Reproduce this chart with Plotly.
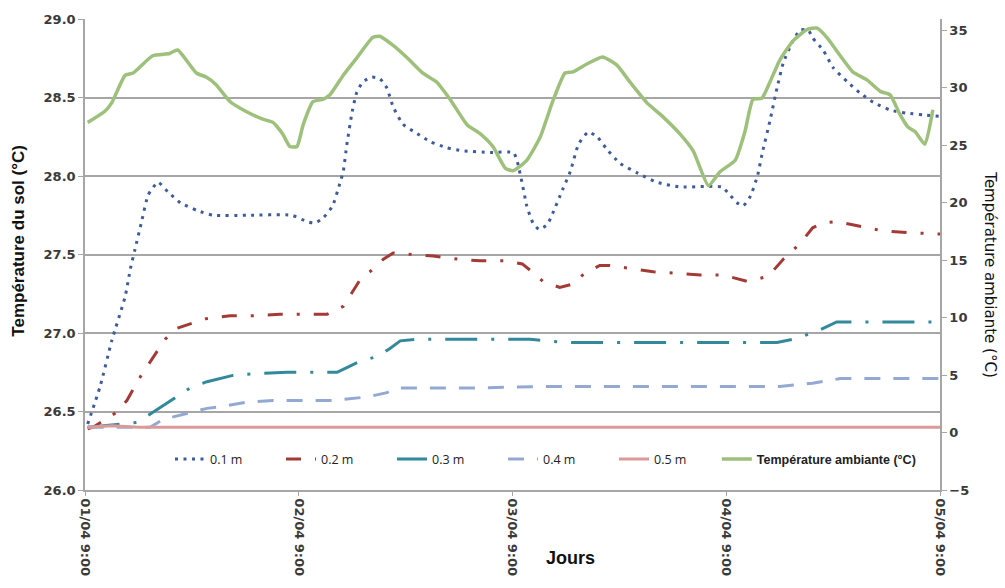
import plotly.graph_objects as go

# ---- data (hours after 01/04 9:00) ----
t01 = [0.3, 1.7, 3.0, 4.5, 5.1, 5.6, 6.4, 7.1, 8.2, 9.3, 10.7, 12.6, 14.4, 18.2, 23.2, 24.9, 25.8, 26.7,
       27.8, 28.6, 29.0, 29.4, 30.0, 30.5, 31.2, 32.2, 33.1, 33.9, 34.6, 35.7, 37.3, 38.7, 40.6, 42.4,
       45.5, 48.1, 48.5, 49.1, 49.6, 50.3, 51.0, 51.9, 52.5, 53.6, 54.5, 55.4, 56.5, 57.5, 58.6, 60.1,
       62.0, 64.2, 66.8, 71.5, 72.4, 73.2, 73.9, 74.7, 75.5, 76.1, 76.9, 77.7, 78.4, 79.4, 80.3, 81.2,
       81.7, 82.9, 84.0, 85.6, 87.0, 88.5, 90.4, 92.3, 94.1, 96.0]
v01 = [26.42, 26.66, 26.95, 27.23, 27.41, 27.53, 27.72, 27.88, 27.96, 27.90, 27.83, 27.78, 27.75, 27.75,
       27.75, 27.71, 27.70, 27.73, 27.81, 27.95, 28.03, 28.20, 28.41, 28.53, 28.60, 28.63, 28.62, 28.56,
       28.44, 28.33, 28.27, 28.22, 28.18, 28.16, 28.15, 28.15, 28.10, 27.95, 27.81, 27.70, 27.66, 27.69,
       27.76, 27.91, 28.03, 28.20, 28.28, 28.25, 28.17, 28.08, 28.02, 27.96, 27.93, 27.93, 27.88, 27.83,
       27.81, 27.87, 28.00, 28.16, 28.35, 28.56, 28.72, 28.85, 28.93, 28.93, 28.88, 28.80, 28.69, 28.60,
       28.53, 28.47, 28.42, 28.40, 28.39, 28.38]

t02 = [0.3, 0.9, 3.4, 4.7, 6.2, 7.6, 9.0, 10.3, 11.8, 13.5, 16.3, 18.9, 21.9, 24.1, 27.2, 29.0, 30.1,
       30.9, 32.2, 33.5, 34.6, 36.7, 39.1, 41.9, 44.4, 47.2, 49.1, 50.2, 51.4, 53.3, 54.7, 56.1, 57.8,
       58.9, 61.2, 63.8, 66.5, 69.1, 71.6, 74.3, 76.7, 78.4, 80.3, 81.7, 82.9, 84.4, 87.0, 89.6, 92.3,
       94.9, 96.0]
v02 = [26.39, 26.40, 26.49, 26.57, 26.72, 26.84, 26.96, 27.03, 27.06, 27.09, 27.11, 27.11, 27.12, 27.12,
       27.12, 27.17, 27.27, 27.34, 27.40, 27.47, 27.51, 27.50, 27.49, 27.47, 27.46, 27.46, 27.44, 27.39,
       27.33, 27.29, 27.31, 27.38, 27.43, 27.43, 27.41, 27.39, 27.38, 27.37, 27.37, 27.33, 27.36, 27.47,
       27.57, 27.67, 27.70, 27.71, 27.68, 27.65, 27.64, 27.63, 27.63]

t03 = [0.3, 5.8, 7.5, 8.8, 10.1, 11.8, 13.7, 16.6, 18.9, 22.7, 26.0, 28.3, 29.4, 30.9, 32.8, 34.2, 35.4,
       37.3, 42.9, 50.0, 51.9, 53.7, 61.0, 68.3, 75.5, 77.7, 79.5, 80.6, 82.5, 84.4, 86.7, 96.0]
v03 = [26.40, 26.43, 26.49, 26.54, 26.59, 26.65, 26.69, 26.73, 26.74, 26.75, 26.75, 26.75, 26.78, 26.82,
       26.85, 26.90, 26.95, 26.96, 26.96, 26.96, 26.95, 26.94, 26.94, 26.94, 26.94, 26.94, 26.96, 26.98,
       27.02, 27.07, 27.07, 27.07]

t04 = [0.3, 7.3, 8.8, 11.0, 13.7, 15.2, 18.2, 21.1, 24.5, 27.8, 31.2, 32.3, 33.9, 35.0, 38.0, 44.4, 51.4,
       64.9, 78.0, 81.7, 84.8, 88.5, 96.0]
v04 = [26.40, 26.40, 26.45, 26.48, 26.52, 26.53, 26.56, 26.57, 26.57, 26.57, 26.59, 26.60, 26.62, 26.65,
       26.65, 26.65, 26.66, 26.66, 26.66, 26.68, 26.71, 26.71, 26.71]

t05 = [0.3, 3.0, 6.0, 24.0, 48.0, 72.0, 96.0]
v05 = [26.40, 26.41, 26.40, 26.40, 26.40, 26.40, 26.40]

t_amb = [0.3, 2.2, 3.0, 4.5, 5.4, 7.6, 9.5, 10.4, 12.5, 13.6, 14.7, 16.3, 18.1, 19.9, 21.1, 22.2, 23.0,
         23.8, 24.5, 25.6, 26.7, 27.5, 29.0, 30.5, 32.3, 33.1, 34.6, 36.2, 37.9, 39.5, 41.0, 42.9, 44.4,
         45.8, 47.2, 48.1, 49.6, 51.1, 52.5, 53.9, 54.8, 56.4, 58.1, 59.7, 61.2, 63.1, 64.6, 66.8, 68.3,
         70.0, 71.3, 73.0, 74.1, 75.0, 76.0, 76.9, 78.0, 79.5, 81.1, 82.2, 83.4, 84.8, 86.2, 87.8, 89.3,
         90.4, 91.5, 92.4, 93.2, 94.3, 95.2]
v_amb = [27.0, 27.95, 28.7, 31.1, 31.3, 32.8, 33.0, 33.3, 31.3, 30.95, 30.3, 28.8, 27.95, 27.3, 27.0,
         26.0, 24.9, 24.9, 26.8, 28.8, 29.0, 29.4, 31.1, 32.6, 34.4, 34.5, 33.7, 32.6, 31.3, 30.5, 29.0,
         26.8, 26.0, 24.9, 23.0, 22.8, 23.7, 25.7, 28.8, 31.3, 31.4, 32.1, 32.7, 32.0, 30.5, 28.7, 27.7,
         26.0, 24.5, 21.5, 22.7, 23.7, 26.2, 29.0, 29.1, 30.5, 32.4, 34.1, 35.1, 35.2, 34.3, 32.8, 31.4,
         30.7, 29.7, 29.4, 27.7, 26.6, 26.2, 25.1, 28.1]

day_ticks = [0, 24, 48, 72, 96]
day_labels = ["01/04 9:00", "02/04 9:00", "03/04 9:00", "04/04 9:00", "05/04 9:00"]
left_ticks = [26.0, 26.5, 27.0, 27.5, 28.0, 28.5, 29.0]
right_ticks = [-5, 0, 5, 10, 15, 20, 25, 30, 35]

names = ["0.1 m", "0.2 m", "0.3 m", "0.4 m", "0.5 m"]
amb_name = "Température ambiante (°C)"

# ---- figure ----
fig = go.Figure()
styles = [
    dict(color="#3E5C9B", width=3, dash="3px,5.5px"),
    dict(color="#A33A35", width=3, dash="15px,14px,3px,14px"),
    dict(color="#31899A", width=3, dash="32px,14px,3px,14px"),
    dict(color="#93A9D2", width=3, dash="16px,13px"),
    dict(color="#DB9A98", width=3),
]
series = [(t01, v01), (t02, v02), (t03, v03), (t04, v04), (t05, v05)]
for (tx, vy), nm, st in zip(series, names, styles):
    shape = "spline" if nm == "0.1 m" else "linear"
    fig.add_trace(go.Scatter(x=tx, y=vy, name=nm, mode="lines", legend="legend",
                             line=dict(shape=shape, smoothing=0.5, **st), yaxis="y"))

fig.add_trace(go.Scatter(x=t_amb, y=v_amb, name="<b>" + amb_name + "</b>", legend="legend2",
                         mode="lines", line=dict(color="#9DC07B", width=3.5, shape="spline", smoothing=0.5),
                         yaxis="y2"))

tickfont = dict(family="DejaVu Sans", size=13, color="#3a3a3a", weight="bold")
gray = "#A6A6A6"
fig.update_layout(
    width=1005, height=588,
    margin=dict(l=85, r=65, t=13, b=97),
    plot_bgcolor="white", paper_bgcolor="white",
    showlegend=True,
    legend=dict(orientation="h", x=0.0994, y=0.065, xanchor="left", yanchor="middle",
                bgcolor="rgba(0,0,0,0)", font=dict(family="Open Sans", size=12.5, color="#222222"),
                entrywidth=66, entrywidthmode="pixels"),
    legend2=dict(orientation="h", x=0.739, y=0.065, xanchor="left", yanchor="middle",
                 bgcolor="rgba(0,0,0,0)", font=dict(family="Liberation Sans", size=12.5, color="#222222")),
    xaxis=dict(range=[0, 96], tickvals=day_ticks, ticktext=day_labels, tickangle=90,
               showgrid=False, zeroline=False, showline=True, linecolor=gray, linewidth=1.5,
               ticks="outside", ticklen=4, tickcolor=gray, tickfont=tickfont),
    yaxis=dict(range=[26, 29], tickvals=left_ticks, tickformat=".1f", showgrid=True,
               gridcolor=gray, gridwidth=1.5, zeroline=False, showline=True, linecolor=gray,
               linewidth=1.5, ticks="outside", ticklen=5, tickcolor=gray, tickfont=tickfont),
    yaxis2=dict(range=[-5, 36], tickvals=right_ticks, overlaying="y", side="right",
                showgrid=False, zeroline=False, showline=True, linecolor=gray, linewidth=1.5,
                ticks="outside", ticklen=5, tickcolor=gray, tickfont=tickfont),
    annotations=[
        dict(text="<b>Température du sol (°C)</b>", xref="paper", yref="paper", x=-0.078, y=0.53,
             xanchor="center", yanchor="middle", textangle=-90, showarrow=False,
             font=dict(family="Liberation Sans", size=17, color="#111111")),
        dict(text=amb_name, xref="paper", yref="paper", x=1.0585, y=0.458,
             xanchor="center", yanchor="middle", textangle=90, showarrow=False,
             font=dict(family="DejaVu Sans", size=15, color="#111111")),
        dict(text="<b>Jours</b>", xref="paper", yref="paper", x=0.568, y=-0.144,
             xanchor="center", yanchor="middle", showarrow=False,
             font=dict(family="Liberation Sans", size=18, color="#111111")),
    ],
)

fig.write_html("out.html")
